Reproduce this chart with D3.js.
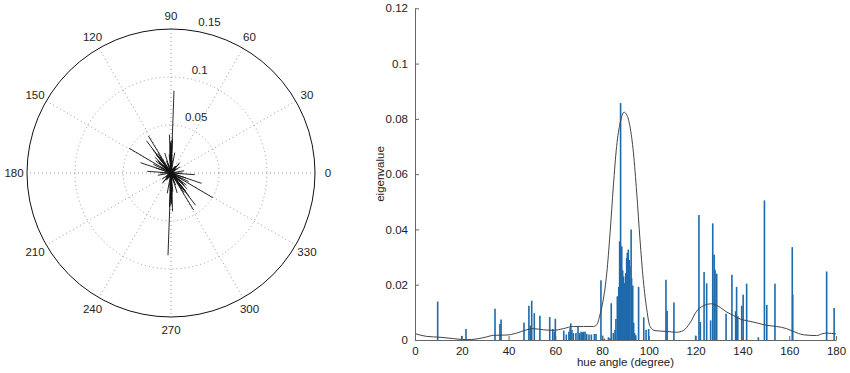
<!DOCTYPE html>
<html><head><meta charset="utf-8">
<script src="https://cdn.jsdelivr.net/npm/d3@7"></script>
<style>body{margin:0;background:#fff}svg{display:block}text{font-family:"Liberation Sans",Arial,Helvetica,sans-serif;fill:#222}</style>
</head><body><svg id="c" width="850" height="373"></svg>
<script>
// hue angle (degree) of each eigenvector bar
const hues = [9.7,20.0,21.8,34.2,36.3,36.8,46.6,48.7,49.3,49.9,51.0,53.4,57.6,58.9,59.6,60.0,63.6,64.7,65.8,66.3,66.6,67.1,67.7,68.8,69.7,70.4,71.0,71.5,72.1,72.7,73.4,74.4,75.4,76.7,77.4,79.5,80.2,81.0,82.7,83.4,83.9,84.8,85.5,85.9,86.5,87.1,87.5,87.9,88.4,88.8,89.2,89.7,90.1,90.5,90.8,91.2,91.6,91.9,92.4,92.6,93.1,93.5,93.9,94.4,95.6,97.8,98.8,99.9,107.3,107.8,110.7,120.0,121.4,122.0,123.6,124.7,126.4,127.3,127.9,128.3,129.0,133.0,135.5,137.1,137.5,138.0,139.7,140.3,141.8,146.8,149.4,150.4,153.9,161.3,161.5,176.0,179.2];
// eigenvalue of each bar
const eigenvalues = [0.0139,0.0015,0.0040,0.0113,0.0058,0.0074,0.0063,0.0124,0.0052,0.0142,0.0097,0.0088,0.0083,0.0040,0.0030,0.0077,0.0034,0.0020,0.0030,0.0043,0.0060,0.0037,0.0025,0.0025,0.0048,0.0025,0.0030,0.0028,0.0030,0.0030,0.0022,0.0020,0.0020,0.0022,0.0022,0.0216,0.0016,0.0005,0.0010,0.0007,0.0133,0.0025,0.0036,0.0076,0.0158,0.0192,0.0357,0.0857,0.0339,0.0252,0.0230,0.0206,0.0242,0.0297,0.0315,0.0327,0.0290,0.0267,0.0400,0.0224,0.0197,0.0062,0.0025,0.0017,0.0192,0.0082,0.0037,0.0040,0.0218,0.0105,0.0136,0.0016,0.0452,0.0065,0.0246,0.0205,0.0071,0.0422,0.0309,0.0254,0.0240,0.0095,0.0236,0.0104,0.0192,0.0086,0.0124,0.0164,0.0204,0.0010,0.0505,0.0127,0.0204,0.0336,0.0164,0.0248,0.0116];
// smoothed density curve
const curveHue = [0,5,10.7,16.4,22.1,26.4,30.6,33.5,39.2,43.5,47.7,50.6,54.9,59.1,63.4,67.7,72.0,76.3,77.7,79.1,80.5,82.0,83.4,84.8,86.2,87.7,89.4,90.5,91.9,93.4,94.8,96.2,97.6,99.1,100.5,102.6,107.6,111.9,114.7,117.6,120.4,123.3,126.8,129.7,133.3,136.1,139.0,141.8,146.1,150.4,154.6,158.9,161.8,166.0,171.7,173.9,176.0,180];
const curveVal = [0.0023,0.0013,0.0010,0.0005,0.0001,0.0004,0.0011,0.0017,0.0018,0.0025,0.0037,0.0041,0.0037,0.0035,0.0041,0.0049,0.0049,0.0049,0.0055,0.0092,0.0146,0.0242,0.0387,0.0556,0.0700,0.0785,0.0824,0.0815,0.0773,0.0677,0.0532,0.0363,0.0218,0.0110,0.0049,0.0034,0.0031,0.0028,0.0034,0.0062,0.0104,0.0124,0.0131,0.0122,0.0101,0.0089,0.0076,0.0070,0.0062,0.0053,0.0049,0.0041,0.0031,0.0019,0.0016,0.0022,0.0025,0.0022];
const xTicks = [0,20,40,60,80,100,120,140,160,180];
const yTicks = [0,0.02,0.04,0.06,0.08,0.1,0.12];
const angleTicks = [0,30,60,90,120,150,180,210,240,270,300,330];
const radialTicks = [0.05,0.1,0.15];

const svg = d3.select("#c");

// ---------- Polar plot ----------
const cx = 171, cy = 173, R = 144;
const r = d3.scaleLinear().domain([0, 0.15]).range([0, R]);
const pg = svg.append("g").attr("transform", `translate(${cx},${cy})`);
const rad = d => d * Math.PI / 180;
// spokes
pg.selectAll("line.spoke").data(angleTicks.filter(a => a < 180)).join("line")
  .attr("x1", a => R * Math.cos(rad(a))).attr("y1", a => -R * Math.sin(rad(a)))
  .attr("x2", a => -R * Math.cos(rad(a))).attr("y2", a => R * Math.sin(rad(a)))
  .attr("stroke", "#999").attr("stroke-width", 1).attr("stroke-dasharray", "1,3");
pg.selectAll("circle.ring").data(radialTicks.slice(0, 2)).join("circle")
  .attr("r", d => r(d)).attr("fill", "none")
  .attr("stroke", "#999").attr("stroke-width", 1).attr("stroke-dasharray", "1,3");
pg.append("circle").attr("r", R).attr("fill", "none").attr("stroke", "#111").attr("stroke-width", 1);
// angle labels
pg.selectAll("text.ang").data(angleTicks).join("text")
  .attr("x", a => 157 * Math.cos(rad(a))).attr("y", a => -157 * Math.sin(rad(a)))
  .attr("text-anchor", "middle").attr("dominant-baseline", "central")
  .attr("font-size", 11.5).text(a => a);
// radial labels
pg.selectAll("text.rl").data(radialTicks).join("text")
  .attr("x", d => r(d + 0.0025) * Math.cos(rad(82)) + 7)
  .attr("y", d => -r(d + 0.0025) * Math.sin(rad(82)) - 2)
  .attr("font-size", 11.5).text(d => d);
// eigen lines (axial: through the center)
const pdata = hues.map((h, i) => ({ h, v: eigenvalues[i] }));
pg.selectAll("line.eig").data(pdata).join("line")
  .attr("x1", d => r(d.v) * Math.cos(rad(d.h))).attr("y1", d => -r(d.v) * Math.sin(rad(d.h)))
  .attr("x2", d => -r(d.v) * Math.cos(rad(d.h))).attr("y2", d => r(d.v) * Math.sin(rad(d.h)))
  .attr("stroke", "#111").attr("stroke-width", 0.9);

// ---------- Bar chart ----------
const x = d3.scaleLinear().domain([0, 180]).range([415, 836]);
const y = d3.scaleLinear().domain([0, 0.12]).range([340, 8.3]);
const bg = svg.append("g");
bg.selectAll("rect.bar").data(pdata).join("rect")
  .attr("x", d => x(d.h) - 0.8).attr("width", 1.6)
  .attr("y", d => y(d.v)).attr("height", d => y(0) - y(d.v))
  .attr("fill", "#1f6aab");
const line = d3.line().x((d, i) => x(curveHue[i])).y(d => y(d)).curve(d3.curveMonotoneX);
bg.append("path").attr("d", line(curveVal)).attr("fill", "none")
  .attr("stroke", "#444").attr("stroke-width", 1);

const xAxis = d3.axisBottom(x).tickValues(xTicks).tickSizeInner(-4).tickSizeOuter(0).tickPadding(7).tickFormat(d3.format("d"));
const gx = bg.append("g").attr("transform", "translate(0,340)").call(xAxis);
const yAxis = d3.axisLeft(y).tickValues(yTicks).tickSizeInner(-4).tickSizeOuter(0).tickPadding(7).tickFormat(d => d);
const gy = bg.append("g").attr("transform", "translate(415,0)").call(yAxis);
[gx, gy].forEach(g => {
  g.selectAll("path.domain").attr("stroke", "#666");
  g.selectAll(".tick line").attr("stroke", "#666");
  g.selectAll("text").attr("font-size", 11.5).attr("fill", "#222")
    .attr("font-family", '"Liberation Sans",Arial,sans-serif');
});
bg.append("text").attr("x", (x(0) + x(180)) / 2).attr("y", 366).attr("text-anchor", "middle")
  .attr("font-size", 11.5).text("hue angle (degree)");
bg.append("text").attr("transform", "translate(384,174) rotate(-90)").attr("text-anchor", "middle")
  .attr("font-size", 11.5).text("eigenvalue");
</script></body></html>
